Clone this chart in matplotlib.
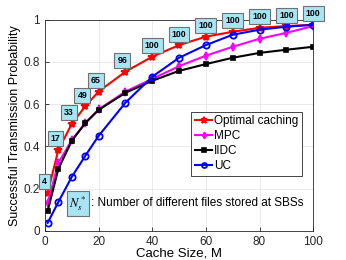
import matplotlib
matplotlib.use("Agg")
import matplotlib.pyplot as plt

plt.rcParams['font.family'] = ['Liberation Sans', 'DejaVu Sans']
plt.rcParams['mathtext.fontset'] = 'stix'

cache = [1, 5, 10, 15, 20, 30, 40, 50, 60, 70, 80, 90, 100]
opt = [0.18, 0.384, 0.507, 0.59, 0.66, 0.754, 0.825, 0.88, 0.92, 0.943, 0.962, 0.97, 0.976]
mpc = [0.133, 0.322, 0.43, 0.51, 0.575, 0.66, 0.72, 0.78, 0.83, 0.872, 0.91, 0.938, 0.97]
iidc = [0.095, 0.294, 0.427, 0.51, 0.573, 0.654, 0.711, 0.758, 0.79, 0.82, 0.843, 0.858, 0.872]
uc = [0.038, 0.137, 0.256, 0.355, 0.45, 0.607, 0.73, 0.82, 0.88, 0.929, 0.953, 0.967, 0.976]
n_files = [4, 17, 33, 49, 65, 96, 100, 100, 100, 100, 100, 100, 100]

box = dict(boxstyle='square,pad=0.35', fc='#a8e4f4', ec='#707070', lw=0.8)

fig = plt.figure(figsize=(3.46, 2.60), dpi=100)
ax = fig.add_axes([0.130, 0.112, 0.775, 0.812])

ax.plot(cache, opt, '-*', color='red', lw=1.5, ms=6, mew=1.3, label='Optimal caching')
ax.plot(cache, mpc, '-d', color='magenta', lw=1.5, ms=4, mew=1.2, label='MPC')
ax.plot(cache, iidc, '-s', color='black', lw=1.5, ms=3.5, mew=1.2, label='IIDC')
ax.plot(cache, uc, '-o', color='blue', lw=1.5, ms=4.5, mew=1.3, mfc='none', label='UC')

for x, y, n in zip(cache, opt, n_files):
    dx = -1.1 if x < 40 else 0
    ax.text(x + dx, y + 0.052, str(n), fontsize=6.3, fontweight='bold',
            ha='center', va='center', bbox=box, clip_on=False, zorder=5)

ax.text(12.3, 0.13, r'$N_s^*$', fontsize=9, ha='center', va='center',
        bbox=dict(boxstyle='square,pad=0.22', fc='#a8e4f4', ec='#707070', lw=0.8))
ax.text(17.3, 0.13, ': Number of different files stored at SBSs', fontsize=8.5,
        ha='left', va='center')

ax.set_xlim(0, 100)
ax.set_ylim(0, 1)
ax.set_xticks([0, 20, 40, 60, 80, 100])
ax.set_yticks([0, 0.2, 0.4, 0.6, 0.8, 1])
ax.set_yticklabels(['0', '0.2', '0.4', '0.6', '0.8', '1'])
ax.tick_params(labelsize=8.5, direction='in', length=3, width=0.6, colors='#262626')
ax.grid(True, color='#e6e6e6', lw=0.6)
ax.set_axisbelow(True)
for s in ax.spines.values():
    s.set_linewidth(0.6)
    s.set_color('#262626')
ax.set_xlabel('Cache Size, M', fontsize=9.5, labelpad=0)
ax.set_ylabel('Successful Transmission Probability', fontsize=9, labelpad=2)

leg = ax.legend(loc='upper left', bbox_to_anchor=(0.545, 0.565), fontsize=8.5,
                frameon=True, fancybox=False, edgecolor='#262626', framealpha=1,
                handlelength=1.5, handletextpad=0.15, borderpad=0.3, labelspacing=0.25,
                borderaxespad=0, markerscale=0.8)
leg.get_frame().set_linewidth(0.6)

fig.savefig('out.png', dpi=100)
